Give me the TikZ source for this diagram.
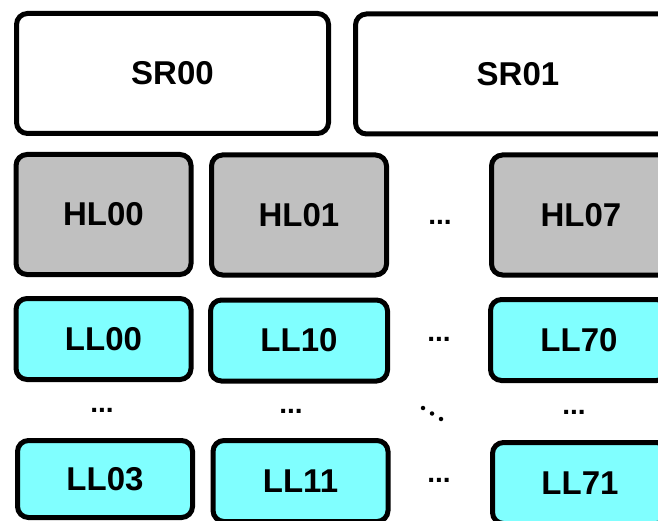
\documentclass[tikz,border=0pt]{standalone}
\usepackage{fontspec}
\setmainfont{Liberation Sans}
\definecolor{hlgray}{HTML}{C0C0C0}
\definecolor{llcyan}{HTML}{80FFFF}
\begin{document}
\begin{tikzpicture}[x=1pt,y=-1pt,
  box/.style={draw=black, line width=5pt, rounded corners=11pt, inner sep=0pt,
    font=\fontsize{33}{38}\selectfont\bfseries},
  srbox/.style={box, fill=white, minimum width=312pt, minimum height=120pt},
  hlbox/.style={box, fill=hlgray, minimum width=175pt, minimum height=120pt},
  llbox/.style={box, fill=llcyan, minimum width=175pt, minimum height=81pt},
  dots/.style={inner sep=0pt, font=\fontsize{28}{30}\selectfont\bfseries},
  dot/.style={circle, fill=black, inner sep=0pt, minimum size=4.5pt}]
\useasboundingbox (0,0) rectangle (658,521);
\begin{scope}
\clip (0,0) rectangle (658,521);
\node[srbox] (sr00) at (172.5,73.5) {SR00};
\node[srbox, minimum width=325pt] (sr01) at (518,74) {SR01};
\node[hlbox] (hl00) at (103.5,214.5) {HL00};
\node[hlbox] (hl01) at (299,215) {HL01};
\node[hlbox, minimum width=179pt] (hl07) at (581,215) {HL07};
\node[llbox] (ll00) at (103.5,339) {LL00};
\node[llbox, minimum width=177pt] (ll10) at (299,340.5) {LL10};
\node[llbox, minimum width=177pt] (ll70) at (579,340) {LL70};
\node[llbox, minimum height=77pt] (ll03) at (105,479) {LL03};
\node[llbox] (ll11) at (300.5,481) {LL11};
\node[llbox] (ll71) at (580,483) {LL71};
\node[dots] (dh1) at (440,222) {...};
\node[dots] (dh2) at (439,339) {...};
\node[dots] (dh3) at (439,480) {...};
\node[dots] (dv1) at (102,410) {...};
\node[dots] (dv2) at (291,411) {...};
\node[dots] (dv3) at (574,412) {...};
\node[dot] (dd1) at (423,408) {};
\node[dot] (dd2) at (432,413.5) {};
\node[dot] (dd3) at (441,419) {};
\end{scope}
\end{tikzpicture}
\end{document}
